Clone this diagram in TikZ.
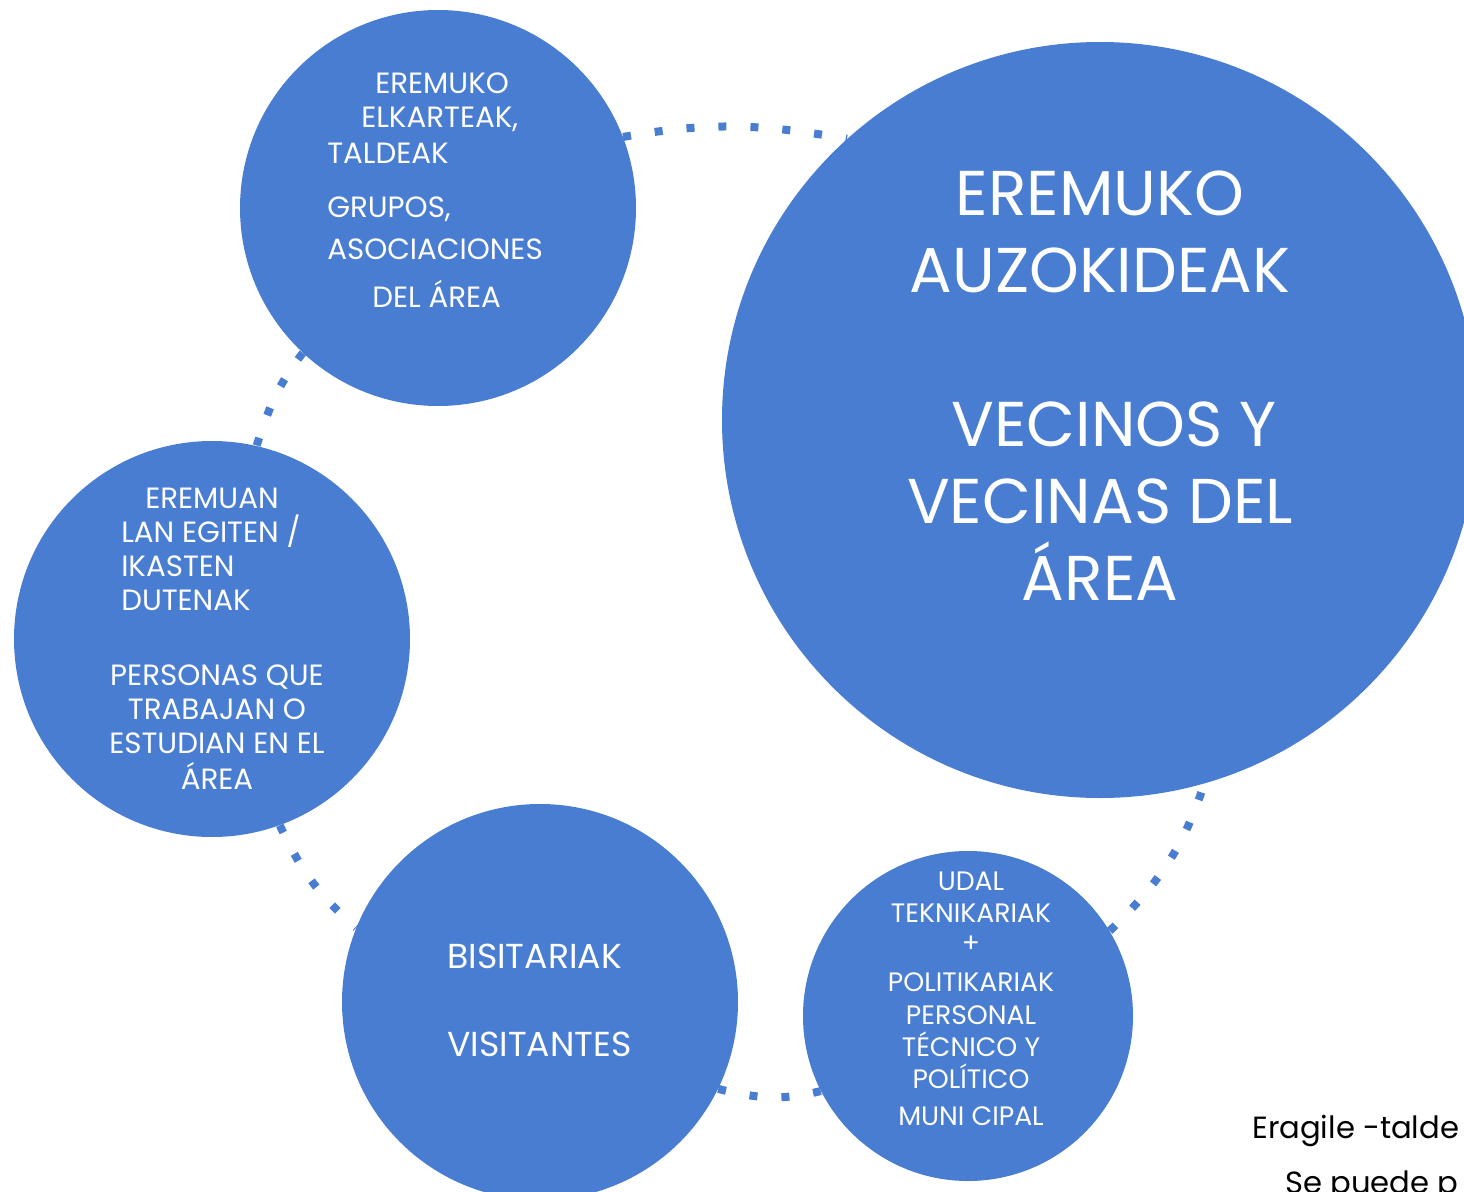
\documentclass[tikz,border=0pt]{standalone}
\usepackage{fontspec}
\setmainfont{Poppins}
\usepackage{xcolor}
\usetikzlibrary{backgrounds}
\definecolor{circblue}{RGB}{72,125,210}

\begin{document}
\begin{tikzpicture}[x=0.75pt,y=0.75pt,
    circ/.style={circle,fill=circblue,draw=none,inner sep=0pt},
    ringdots/.style={circblue,line width=6pt,line cap=butt,dash pattern=on 6pt off 18pt},
    txt/.style={text=white,inner sep=0pt}]
    \useasboundingbox (0,0) rectangle (1464,-1192);
    \node[circ,minimum size=297pt] (elkarteak) at (438,-208) {};
    \node[circ,minimum size=567pt] (auzokideak) at (1100,-420) {};
    \node[circ,minimum size=297pt] (langileak) at (212,-639) {};
    \node[circ,minimum size=297pt] (bisitariak) at (540,-1002) {};
    \node[circ,minimum size=247.5pt] (udala) at (968,-1016) {};
    \begin{pgfonlayer}{background}
        \draw[ringdots] (elkarteak.21) to[out=10,in=170] (auzokideak.132);
        \draw[ringdots] (elkarteak.227) to[out=232,in=72] (langileak.77);
        \draw[ringdots] (langileak.290) to[out=-65,in=139] (bisitariak.158);
        \draw[ringdots] (bisitariak.-26) to[out=-14,in=194] (udala.207);
        \draw[ringdots] (udala.31) to[out=44,in=252] (auzokideak.-74);
    \end{pgfonlayer}
    \node[txt,anchor=north west,align=left,font=\fontsize{22}{25.5}\selectfont] (elkarteaktxt) at (327,-73)
        {\hspace*{36pt}EREMUKO\\ \hspace*{25.5pt}ELKARTEAK,\\[1.5pt] TALDEAK\\[15pt] GRUPOS,\\[6pt] ASOCIACIONES\\[10.5pt] \hspace*{33.75pt}DEL ÁREA};
    \node[txt,anchor=north,align=center,font=\fontsize{47.5}{57.75}\selectfont] (auzokideaktxt) at (1100,-171)
        {EREMUKO\\ AUZOKIDEAK\\[57.75pt] \hspace*{21pt}VECINOS Y\\ VECINAS DEL\\ ÁREA};
    \node[txt,anchor=north west,align=left,font=\fontsize{22}{25.5}\selectfont] (langileaktxt) at (121,-488)
        {\hspace*{18pt}EREMUAN\\ LAN EGITEN /\\ IKASTEN\\ DUTENAK};
    \node[txt,anchor=north,align=center,font=\fontsize{22}{25.5}\selectfont] (personastxt) at (217,-665)
        {PERSONAS QUE\\ TRABAJAN O\\ ESTUDIAN EN EL\\[1.5pt] ÁREA};
    \node[txt,anchor=north west,align=left,font=\fontsize{26}{66}\selectfont] (bisitariaktxt) at (447,-944)
        {BISITARIAK\\ VISITANTES};
    \node[txt,anchor=north,align=center,font=\fontsize{20}{24}\selectfont] (udalatxt) at (971,-872)
        {UDAL\\ TEKNIKARIAK\\[-1.5pt] +\\[5pt] POLITIKARIAK\\[0.75pt] PERSONAL\\ TÉCNICO Y\\ POLÍTICO\\[3.75pt] MUNI CIPAL};
    \node[anchor=base west,inner sep=0pt,font=\fontsize{23}{28}\selectfont] (eragile) at (1252,-1138) {Eragile -talde};
    \node[anchor=base west,inner sep=0pt,font=\fontsize{23}{28}\selectfont] (sepuede) at (1285,-1193) {Se puede p};
\end{tikzpicture}
\end{document}
